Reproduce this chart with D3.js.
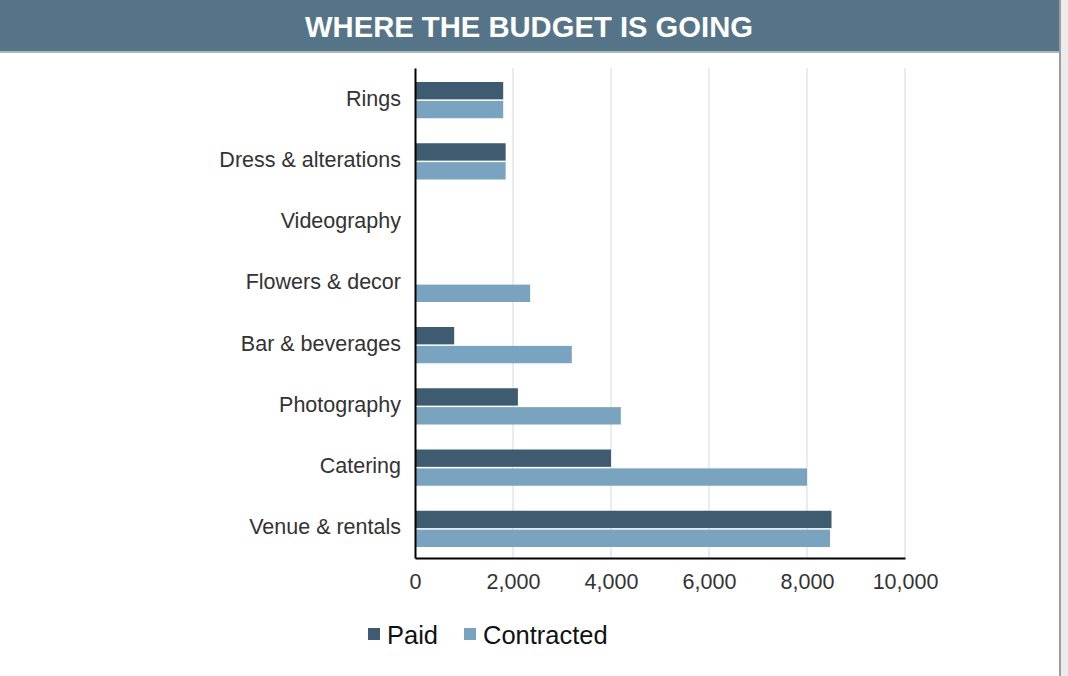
<!DOCTYPE html>
<html>
<head>
<meta charset="utf-8">
<script src="https://cdn.jsdelivr.net/npm/d3@7"></script>
<style>
  body { margin: 0; background: #fff; font-family: "Liberation Sans", Arial, sans-serif; }
</style>
</head>
<body>
<svg id="chart" width="1068" height="676"></svg>
<script>
const categories = ["Rings", "Dress & alterations", "Videography", "Flowers & decor",
  "Bar & beverages", "Photography", "Catering", "Venue & rentals"];
const paid = [1800, 1850, 0, 0, 800, 2100, 4000, 8500];
const contracted = [1800, 1850, 0, 2350, 3200, 4200, 8000, 8470];
const seriesNames = ["Paid", "Contracted"];
const xTicks = [0, 2000, 4000, 6000, 8000, 10000];

const colors = { Paid: "#3f5b70", Contracted: "#7aa3c0" };

const svg = d3.select("#chart");

// page frame on the right
svg.append("rect").attr("x", 1059).attr("y", 0).attr("width", 9).attr("height", 676).attr("fill", "#ececec");
svg.append("rect").attr("x", 1059).attr("y", 0).attr("width", 2).attr("height", 676).attr("fill", "#9a9ea2");

// header
svg.append("rect").attr("x", 0).attr("y", 0).attr("width", 1059).attr("height", 51).attr("fill", "#557488");
svg.append("rect").attr("x", 0).attr("y", 51).attr("width", 1059).attr("height", 2).attr("fill", "#a9b6bf");
svg.append("text")
  .attr("x", 529).attr("y", 37)
  .attr("text-anchor", "middle")
  .attr("fill", "#fff")
  .style("font-size", "30px")
  .style("font-weight", "bold")
  .attr("textLength", 448)
  .attr("lengthAdjust", "spacingAndGlyphs")
  .text("WHERE THE BUDGET IS GOING");

const margin = { left: 415, right: 905, top: 68, bottom: 558 };

const x = d3.scaleLinear().domain([0, 10000]).range([margin.left, margin.right]);
const y = d3.scaleBand().domain(categories).range([margin.top, margin.bottom]);
const inner = d3.scaleBand().domain(seriesNames).range([14, y.bandwidth() - 11]).paddingInner(0.08);

// gridlines
svg.append("g").selectAll("line")
  .data(xTicks.slice(1))
  .enter().append("line")
  .attr("x1", d => x(d)).attr("x2", d => x(d))
  .attr("y1", margin.top).attr("y2", margin.bottom)
  .attr("stroke", "#e3e7ea").attr("stroke-width", 1.5);

// bars
const rows = categories.map((c, i) => ({ cat: c, Paid: paid[i], Contracted: contracted[i] }));
const groups = svg.append("g").selectAll("g")
  .data(rows)
  .enter().append("g")
  .attr("transform", d => `translate(0,${y(d.cat)})`);

groups.selectAll("rect")
  .data(d => seriesNames.map(s => ({ s, v: d[s] })))
  .enter().append("rect")
  .attr("x", x(0))
  .attr("y", d => inner(d.s))
  .attr("width", d => x(d.v) - x(0))
  .attr("height", inner.bandwidth())
  .attr("fill", d => colors[d.s]);

// axes
const xAxis = svg.append("g")
  .attr("transform", `translate(0,${margin.bottom})`)
  .call(d3.axisBottom(x).tickValues(xTicks).tickFormat(d3.format(",")).tickSize(0).tickPadding(16));
xAxis.select(".domain").attr("stroke", "#000").attr("stroke-width", 2);
xAxis.selectAll("text").style("font-size", "21.5px").attr("fill", "#333")
  .style("font-family", "'Liberation Sans', Arial, sans-serif");

const yAxis = svg.append("g")
  .attr("transform", `translate(${margin.left},0)`)
  .call(d3.axisLeft(y).tickSize(0).tickPadding(14));
yAxis.select(".domain").attr("stroke", "#000").attr("stroke-width", 2);
yAxis.selectAll("text").style("font-size", "21.5px").attr("fill", "#333")
  .style("font-family", "'Liberation Sans', Arial, sans-serif");

// legend
const legend = svg.append("g").attr("transform", "translate(368,628)");
const legendX = [0, 96];
seriesNames.forEach((s, i) => {
  const g = legend.append("g").attr("transform", `translate(${legendX[i]},0)`);
  g.append("rect").attr("width", 12).attr("height", 12).attr("fill", colors[s]);
  g.append("text").attr("x", 19).attr("y", 16)
    .style("font-size", "25.5px").attr("fill", "#111").text(s);
});
</script>
</body>
</html>
